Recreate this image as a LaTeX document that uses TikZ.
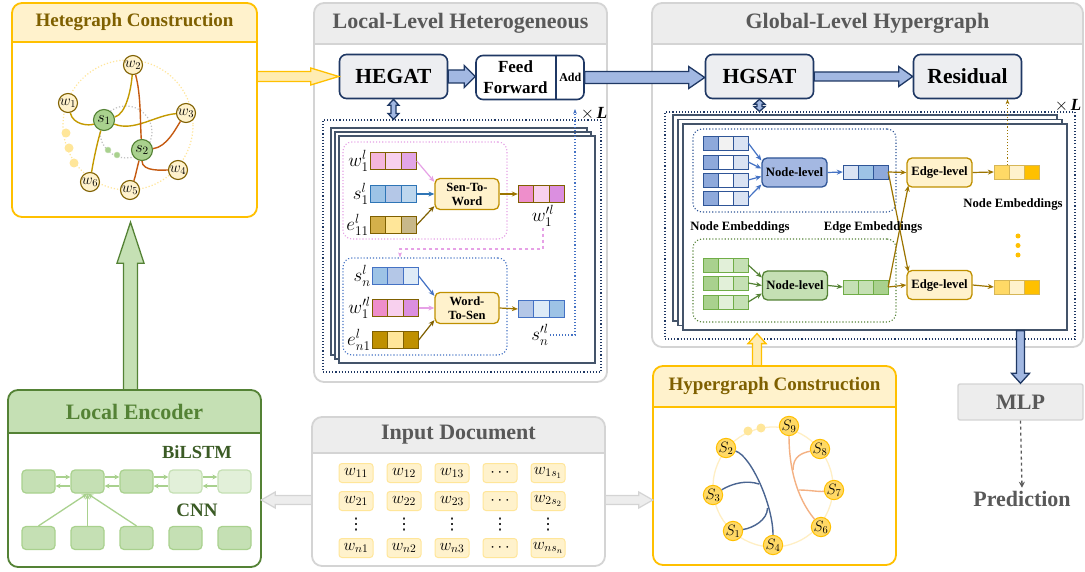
\documentclass[tikz,border=0pt]{standalone}
\usepackage{fix-cm}
\usepackage{fontspec}
\setmainfont{Liberation Serif}
\newfontfamily\symfont{DejaVu Sans}
\usetikzlibrary{calc,positioning,fit,arrows.meta}

% panel colours
\definecolor{yelline}{HTML}{FFC000}
\definecolor{yelfill}{HTML}{FFF2CC}
\definecolor{yeltext}{HTML}{7F6000}
\definecolor{gryline}{HTML}{D4D4D4}
\definecolor{gryfill}{HTML}{EDEDED}
\definecolor{grytext}{HTML}{595959}
\definecolor{grnline}{HTML}{548235}
\definecolor{grnfill}{HTML}{C5E0B4}
\definecolor{grntext}{HTML}{548235}
\definecolor{navy}{HTML}{1F3864}
\definecolor{boxgray}{HTML}{EDEEF1}
\definecolor{arrblue}{HTML}{A2B8E2}
\definecolor{slate}{HTML}{44546A}
\definecolor{gold}{HTML}{BF9000}
\definecolor{edgebrown}{HTML}{9C7400}
% cell colours
\definecolor{pkA}{HTML}{F4B6DC}
\definecolor{pkB}{HTML}{F8D0EE}
\definecolor{pkC}{HTML}{E2A6E6}
\definecolor{pkD}{HTML}{EE8ECB}
\definecolor{pkE}{HTML}{DB8FE0}
\definecolor{pkarrow}{HTML}{E6A1E6}
\definecolor{blA}{HTML}{9DC3E6}
\definecolor{blB}{HTML}{B4C7E7}
\definecolor{blC}{HTML}{BDD7EE}
\definecolor{blD}{HTML}{DEEBF7}
\definecolor{blE}{HTML}{2E75B6}
\definecolor{blF}{HTML}{4472C4}
\definecolor{gdA}{HTML}{D4B04A}
\definecolor{gdB}{HTML}{FFE699}
\definecolor{gdC}{HTML}{C8B88A}
\definecolor{gdD}{HTML}{BF9000}
\definecolor{gdE}{HTML}{D6B656}
\definecolor{nbA}{HTML}{8EA9DB}
\definecolor{nbB}{HTML}{DAE3F3}
\definecolor{nbC}{HTML}{9DC3E6}
\definecolor{nbD}{HTML}{2F5597}
\definecolor{nbL}{HTML}{A4B8E2}
\definecolor{boxF}{HTML}{F2F2F2}
\definecolor{gnA}{HTML}{A9D18E}
\definecolor{gnB}{HTML}{E2F0D9}
\definecolor{gnC}{HTML}{C5E0B4}
\definecolor{gnD}{HTML}{70AD47}
\definecolor{ywA}{HTML}{FFD966}
\definecolor{ywB}{HTML}{FFF2CC}
\definecolor{ywC}{HTML}{FFC000}
\definecolor{hblue}{HTML}{4A6591}
\definecolor{horange}{HTML}{F4B183}
\definecolor{hcirc}{HTML}{FFEFC4}
\definecolor{sedge}{HTML}{C49A00}
\definecolor{wedge}{HTML}{C55A11}

\tikzset{
  bigbox/.style={draw=navy, line width=1.6pt, fill=boxgray, rounded corners=7pt,
    minimum width=108pt, minimum height=44pt, inner sep=0pt,
    font=\bfseries\fontsize{21.5}{22}\selectfont},
  opbox/.style={draw=gold, line width=1.3pt, fill=yelfill, rounded corners=5pt,
    minimum width=64pt, minimum height=31pt, inner sep=0pt, align=center,
    font=\bfseries\fontsize{12.5}{14}\selectfont},
  lvlbox/.style={line width=1.3pt, rounded corners=5pt, minimum width=65pt,
    minimum height=29pt, inner sep=0pt, font=\bfseries\fontsize{12.7}{13}\selectfont},
  stackframe/.style={draw=slate, line width=1.2pt, fill=white, inner sep=0pt},
  loopframe/.style={draw=navy, dotted, line width=1.1pt, inner sep=0pt},
  groupbox/.style={dotted, line width=1.1pt, rounded corners=9pt, inner sep=0pt},
  vlabel/.style={anchor=east, inner sep=1pt, font=\fontsize{19}{19}\selectfont},
  mlabel/.style={inner sep=1pt, font=\fontsize{19}{19}\selectfont},
  lbl/.style={font=\bfseries\fontsize{12.7}{13}\selectfont},
  thinarrow/.style={line width=1.2pt, -{Stealth[length=6pt,width=5pt]}},
  wnode/.style={circle, draw=yeltext, fill=yelfill, line width=1.1pt, inner sep=0pt,
    minimum size=19pt, font=\fontsize{15}{15}\selectfont},
  snode/.style={circle, draw=grnline, fill=gnA, line width=1.1pt, inner sep=0pt,
    minimum size=21pt, font=\fontsize{16}{16}\selectfont},
  hnode/.style={circle, draw=ywC, fill=ywA, line width=1pt, inner sep=0pt,
    minimum size=18pt, font=\fontsize{15}{15}\selectfont},
  encbox/.style={draw=gnA, fill=grnfill, line width=1.2pt, rounded corners=4pt,
    minimum width=33pt, minimum height=23pt, inner sep=0pt},
  docbox/.style={draw=gdB, fill=yelfill, line width=1pt, rounded corners=3pt,
    minimum width=34pt, minimum height=19pt, inner sep=0pt, font=\fontsize{16.5}{16.5}\selectfont},
  blockblue/.style={draw=navy, fill=arrblue, line width=1.3pt},
  yelblock/.style={draw=yelline, fill=gdB!75, line width=1.3pt},
  greenblock/.style={draw=grnline, fill=grnfill, line width=1.3pt},
  grayblock/.style={draw=gryline, fill=gryfill, line width=1.2pt},
  lstm/.style={draw=gnA, line width=1.8pt, -{Stealth[length=5pt,width=5pt]}},
}

% rounded panel with a coloured title band
\newcommand{\panel}[9]{%
  \begin{scope}
    \clip[rounded corners=10pt] (#1,#2) rectangle (#3,#4);
    \fill[white] (#1,#2) rectangle (#3,#4);
    \fill[#6fill] (#1,#2) rectangle (#3,#5);
  \end{scope}
  \draw[#6line, line width=1.8pt] (#1,#5) -- (#3,#5);
  \draw[#6line, line width=1.8pt, rounded corners=10pt] (#1,#2) rectangle (#3,#4);
  \node[#6text, font=\bfseries\fontsize{#8}{#8}\selectfont] (#9-title) at ({(#1+#3)/2},{(#2+#5)/2}) {#7};
  \node[fit={(#1,#2) (#3,#4)}, inner sep=0pt] (#9) {};
}
% three-cell embedding vector
\newcommand{\vect}[7]{%
  \foreach \cc [count=\i from 0] in {#4,#5,#6}
    \draw[fill=\cc, draw=#7, line width=0.9pt] ({#2+\i*\cw},{#3-\ch/2}) rectangle ({#2+(\i+1)*\cw},{#3+\ch/2});
  \node[fit={(#2,{#3-\ch/2}) ({#2+3*\cw},{#3+\ch/2})}, inner sep=0pt] (#1) {};
}
% block arrows: style, from, to, half shaft, half head, head length
\newcommand{\hblock}[6]{%
  \draw[#1] let \p1=(#2), \p2=(#3), \n1={sign(\x2-\x1)} in
    (\x1,{\y1+#4}) -- ({\x2-\n1*#6},{\y1+#4}) -- ({\x2-\n1*#6},{\y1+#5}) -- (\x2,\y1)
    -- ({\x2-\n1*#6},{\y1-#5}) -- ({\x2-\n1*#6},{\y1-#4}) -- (\x1,{\y1-#4}) -- cycle;}
\newcommand{\vblock}[6]{%
  \draw[#1] let \p1=(#2), \p2=(#3), \n1={sign(\y2-\y1)} in
    ({\x1-#4},\y1) -- ({\x1-#4},{\y2-\n1*#6}) -- ({\x1-#5},{\y2-\n1*#6}) -- (\x1,\y2)
    -- ({\x1+#5},{\y2-\n1*#6}) -- ({\x1+#4},{\y2-\n1*#6}) -- ({\x1+#4},\y1) -- cycle;}
\newcommand{\vdblock}[6]{%
  \draw[#1] let \p1=(#2), \p2=(#3), \n1={sign(\y2-\y1)} in
    (\x1,\y1) -- ({\x1+#5},{\y1+\n1*#6}) -- ({\x1+#4},{\y1+\n1*#6}) -- ({\x1+#4},{\y2-\n1*#6})
    -- ({\x1+#5},{\y2-\n1*#6}) -- (\x1,\y2) -- ({\x1-#5},{\y2-\n1*#6}) -- ({\x1-#4},{\y2-\n1*#6})
    -- ({\x1-#4},{\y1+\n1*#6}) -- ({\x1-#5},{\y1+\n1*#6}) -- cycle;}

\begin{document}
\begin{tikzpicture}[x=1pt,y=-1pt]
\useasboundingbox (0,0) rectangle (1085,572);

% panels
\panel{12}{3}{257}{217}{42}{yel}{Hetegraph Construction}{19}{hete}
\panel{314}{3}{607}{382}{44}{gry}{Local-Level Heterogeneous}{22}{local}
\panel{652}{3}{1083}{347}{44}{gry}{Global-Level Hypergraph}{22}{global}
\panel{653}{366}{896}{565}{407}{yel}{Hypergraph Construction}{19}{hyper}
\panel{8}{390}{261}{567}{433}{grn}{Local Encoder}{22}{enc}
\panel{312}{417}{605}{566}{453}{gry}{Input Document}{22}{input}

% ---- hetegraph
\draw[gdB, dotted, line width=1.2pt] (128,125) circle (65);
\draw[gray!50, dotted, line width=1.2pt] (126,132) circle (26);
\foreach \p in {(66,133),(69,148),(74,163)} \fill[gdB] \p circle (4.5);
\foreach \p in {(108,150),(117,155)} \filldraw[fill=gnA, draw=gnC] \p circle (3);
\node[wnode] (w1) at (68,103) {$w_1$};
\node[wnode] (w2) at (133,65) {$w_2$};
\node[wnode] (w3) at (186,113) {$w_3$};
\node[wnode] (w4) at (178,170) {$w_4$};
\node[wnode] (w5) at (130,190) {$w_5$};
\node[wnode] (w6) at (90,182) {$w_6$};
\node[snode] (s1) at (104,120) {$s_1$};
\node[snode] (s2) at (142,150) {$s_2$};
\draw[sedge, line width=1.4pt] (s1) .. controls +(22,-6) and +(-2,25) .. (w2);
\draw[sedge, line width=1.4pt] (w1) .. controls +(5,22) and +(-15,6) .. (s1);
\draw[sedge, line width=1.4pt] (s1) .. controls +(-6,20) and +(4,-25) .. (w6);
\draw[sedge, line width=1.4pt] (s1) .. controls +(30,12) and +(-30,2) .. (w3);
\draw[wedge, line width=1.4pt] (w2) .. controls +(8,30) and +(-2,-30) .. (s2);
\draw[wedge, line width=1.4pt] (s2) .. controls +(25,-3) and +(-10,15) .. (w3);
\draw[wedge, line width=1.4pt] (s2) .. controls +(0,22) and +(-15,0) .. (w4);
\draw[wedge, line width=1.4pt] (s2) .. controls +(-5,18) and +(5,-12) .. (w5);

% ---- local level
\node[bigbox] (hegat) at (393.5,76.5) {HEGAT};
\node[bigbox, fill=white] (ff) at (530,77.5) {};
\coordinate (ffsplit) at ([xshift=-29pt]ff.north east);
\draw[navy, line width=1.6pt] (ffsplit) -- (ffsplit |- ff.south);
\node[font=\bfseries\fontsize{17}{21}\selectfont, align=center] (fftext) at ($(ff.west)!0.5!(ffsplit |- ff.west)$) {Feed\\Forward};
\node[font=\bfseries\fontsize{12}{12}\selectfont] (addtext) at ($(ffsplit |- ff.east)!0.5!(ff.east)$) {Add};

\node[loopframe, fit={(323,120) (601,372)}] (lloop) {};
\foreach \i in {0,1,2}
  \node[stackframe, minimum width=256pt, minimum height=227pt] (lfr\i) at ({459+4*\i},{241.5+4*\i}) {};
\node[groupbox, draw=pkarrow, fit={(343,142) (507,239)}] (ltop) {};
\node[groupbox, draw=blF, fit={(343,258) (507,355)}] (lbot) {};

\def\cw{15.5}\def\ch{16.5}
\vect{w1v}{370}{161}{pkA}{pkB}{pkC}{yeltext}
\vect{s1v}{370}{194}{blA}{blB}{blC}{blE}
\vect{e11v}{370}{225}{gdA}{gdB}{gdC}{yeltext}
\node[vlabel] (w1lab) at (w1v.west) {$w_1^l$};
\node[vlabel] (s1lab) at (s1v.west) {$s_1^l$};
\node[vlabel] (e11lab) at (e11v.west) {$e_{11}^l$};
\node[opbox] (stw) at (467,194) {Sen-To-\\Word};
\vect{w1o}{518}{194}{pkD}{pkB}{pkE}{yeltext}
\node[mlabel] (w1olab) at (543,216) {$w_1^{\prime l}$};
\draw[thinarrow, pkarrow] (w1v.east) -- ($(stw.north west)+(0,4)$);
\draw[thinarrow, blE] (s1v.east) -- (stw.west);
\draw[thinarrow, yeltext] (e11v.east) -- ($(stw.south west)+(0,-4)$);
\draw[thinarrow, edgebrown] (stw.east) -- (w1o.west);

\vect{snv}{372}{276}{blA}{blB}{blD}{blF}
\vect{w1pv}{372}{308}{pkD}{pkB}{pkE}{yeltext}
\vect{en1v}{372}{340}{gdD}{gdB}{gdD}{yeltext}
\node[vlabel] (snlab) at (snv.west) {$s_n^l$};
\node[vlabel] (w1plab) at (w1pv.west) {$w_1^{\prime l}$};
\node[vlabel] (en1lab) at (en1v.west) {$e_{n1}^l$};
\node[opbox] (wts) at (467,308) {Word-\\To-Sen};
\vect{sno}{518}{309}{blB}{blD}{blA}{blF}
\node[mlabel] (snolab) at (540,335) {$s_n^{\prime l}$};
\draw[thinarrow, blF] (snv.east) -- ($(wts.north west)+(0,4)$);
\draw[thinarrow, pkarrow] (w1pv.east) -- (wts.west);
\draw[thinarrow, yeltext] (en1v.east) -- ($(wts.south west)+(0,-4)$);
\draw[thinarrow, edgebrown] (wts.east) -- (sno.west);

\coordinate (pturn) at (400,249);
\draw[pkarrow, dashed, line width=1.2pt, -{Stealth[length=5pt]}] (w1olab.south) |- (pturn) -- (pturn |- lbot.north);
\coordinate (lret) at (575,109);
\draw[blF, dotted, line width=1.1pt, -{Stealth[length=5pt]}] (snolab.east) -| (lret);
\node[font=\fontsize{17}{17}\selectfont] (ltimes) at (594,114) {$\times$\,\textbf{\textit{L}}};

% ---- global level
\node[bigbox] (hgsat) at (759.5,76.5) {HGSAT};
\node[bigbox] (resid) at (967.5,76.5) {Residual};
\node[loopframe, fit={(665,112) (1075,339)}] (gloop) {};
\foreach \i in {0,1,2}
  \node[stackframe, minimum width=384pt, minimum height=206pt] (gfr\i) at ({865+5*\i},{218+4.5*\i}) {};
\node[groupbox, draw=nbD, fit={(693,129) (896,212)}] (gtop) {};
\node[groupbox, draw=grnline, fit={(693,239) (896,322)}] (gbot) {};

\def\cw{15}\def\ch{14}
\vect{nb1}{703}{143}{nbA}{boxF}{nbB}{nbD}
\vect{nb2}{703}{162}{nbA}{white}{nbB}{nbD}
\vect{nb3}{703}{180}{nbA}{white}{nbB}{nbD}
\vect{nb4}{703}{198}{nbA}{white}{nbB}{nbD}
\node[lvlbox, fill=nbL, draw=nbD] (nlb) at (794.5,172.5) {Node-level};
\foreach \v/\off in {nb1/-12,nb2/-4,nb3/4,nb4/12}
  \draw[thinarrow, blF] (\v.east) -- ($(nlb.west)+(0,\off)$);
\vect{eb}{843}{172}{nbB}{nbC}{nbA}{nbD}
\draw[thinarrow, blF] (nlb.east) -- (eb.west);
\node[lvlbox, fill=yelfill, draw=gold] (elt) at (939.5,172.5) {Edge-level};
\vect{yt}{994}{172}{ywA}{ywB}{ywC}{gdE}
\draw[thinarrow, edgebrown] (elt.east) -- (yt.west);

\vect{ng1}{703}{265}{gnA}{gnB}{gnC}{gnD}
\vect{ng2}{703}{283}{gnA}{gnB}{gnC}{gnD}
\vect{ng3}{703}{302}{gnA}{gnB}{gnC}{gnD}
\node[lvlbox, fill=grnfill, draw=grnline] (nlg) at (795,285.5) {Node-level};
\foreach \v/\off in {ng1/-8,ng2/0,ng3/8}
  \draw[thinarrow, grnline] (\v.east) -- ($(nlg.west)+(0,\off)$);
\vect{eg}{843}{287}{gnC}{gnC}{gnA}{gnD}
\draw[thinarrow, grnline] (nlg.east) -- (eg.west);
\node[lvlbox, fill=yelfill, draw=gold] (elb) at (939.5,285) {Edge-level};
\vect{yb}{994}{287}{ywA}{ywB}{ywC}{gdE}
\draw[thinarrow, edgebrown] (elb.east) -- (yb.west);

\draw[thinarrow, edgebrown] (eb.east) -- (elt.west);
\draw[thinarrow, edgebrown] (eb.east) -- ($(elb.north west)+(2,2)$);
\draw[thinarrow, edgebrown] (eg.east) -- (elb.west);
\draw[thinarrow, edgebrown] (eg.east) -- ($(elt.south west)+(2,-2)$);
\draw[edgebrown, dotted, line width=1.1pt, -{Stealth[length=5pt]}] ([xshift=-9pt]yt.north) -- ([xshift=-9pt]yt.north |- resid.south);

\node[lbl] (nelab) at (1013,204) {Node Embeddings};
\node[lbl] (nelab2) at (740,227) {Node Embeddings};
\node[lbl] (eelab) at (873,227) {Edge Embeddings};
\foreach \yy in {236,245.5,255} \fill[ywC] (1018,\yy) circle (2.5);
\node[font=\fontsize{17}{17}\selectfont] (gtimes) at (1068,106) {$\times$\,\textbf{\textit{L}}};

% ---- hypergraph construction
\draw[hcirc, line width=1.3pt] (773,487) circle (60);
\foreach \p in {(748,431),(761,428)} \fill[gdB] \p circle (4.5);
\node[hnode] (hs1) at (733,531) {$S_1$};
\node[hnode] (hs2) at (726,448) {$S_2$};
\node[hnode] (hs3) at (713,495) {$S_3$};
\node[hnode] (hs4) at (773,545) {$S_4$};
\node[hnode] (hs6) at (821,527) {$S_6$};
\node[hnode] (hs7) at (834,490) {$S_7$};
\node[hnode] (hs8) at (820,449) {$S_8$};
\node[hnode] (hs9) at (789,426) {$S_9$};
\coordinate (hj1) at (759,484);
\coordinate (hj2) at (767.5,508);
\coordinate (oj1) at (793,470);
\coordinate (oj2) at (799,490);
\draw[hblue, line width=1.4pt] (hs2) .. controls +(25,8) and +(0,-40) .. (hs4);
\draw[hblue, line width=1.4pt] (hs3) .. controls +(20,-12) and +(-12,-4) .. (hj1);
\draw[hblue, line width=1.4pt] (hs1) .. controls +(20,-3) and +(0,12) .. (hj2);
\draw[horange, line width=1.4pt] (hs9) .. controls +(0,40) and +(-25,-30) .. (hs6);
\draw[horange, line width=1.4pt] (hs8) .. controls +(-18,4) and +(0,-14) .. (oj1);
\draw[horange, line width=1.4pt] (hs7) .. controls +(-15,2) and +(10,0) .. (oj2);

% ---- local encoder
\node[font=\bfseries\fontsize{18.5}{19}\selectfont, text=grnline!70!black] (bilstm) at (197,452) {BiLSTM};
\node[font=\bfseries\fontsize{19}{19}\selectfont, text=grnline!70!black] (cnn) at (197,510) {CNN};
\foreach \i/\x in {1/38.5,2/87.5,3/136.5}
  \node[encbox] (e\i) at (\x,481.5) {};
\foreach \i/\x in {4/185.5,5/234.5}
  \node[encbox, fill=gnB, draw=gnC] (e\i) at (\x,481.5) {};
\foreach \i/\x in {1/38.5,2/87.5,3/136.5,4/185.5,5/234.5}
  \node[encbox] (c\i) at (\x,538) {};
\foreach \a/\b in {e1/e2,e2/e3,e3/e4,e4/e5} {
  \draw[lstm] ([yshift=4.5pt]\a.east) -- ([yshift=4.5pt]\b.west);
  \draw[lstm] ([yshift=-4.5pt]\b.west) -- ([yshift=-4.5pt]\a.east);
}
\foreach \c in {c1,c2,c3}
  \draw[gnA, line width=1.3pt, -{Stealth[length=6pt,width=5pt]}] (\c.north) -- (e2.south);

% ---- input document
\foreach \lab [count=\i] in {{w_{11}},{w_{12}},{w_{13}},{\cdots},{w_{1s_1}}}
  \node[docbox] (da\i) at ({308+48*\i},473) {$\lab$};
\foreach \lab [count=\i] in {{w_{21}},{w_{22}},{w_{23}},{\cdots},{w_{2s_2}}}
  \node[docbox] (db\i) at ({308+48*\i},501) {$\lab$};
\foreach \i in {1,...,5}
  \node[inner sep=0pt, font=\symfont\fontsize{16}{16}\selectfont] (dv\i) at ({308+48*\i},525) {⋮};
\foreach \lab [count=\i] in {{w_{n1}},{w_{n2}},{w_{n3}},{\cdots},{w_{ns_n}}}
  \node[docbox] (dn\i) at ({308+48*\i},548) {$\lab$};

% ---- output
\node[draw=gryline, fill=gryfill, line width=1.4pt, rounded corners=2pt, minimum width=125pt,
  minimum height=36pt, text=grytext, font=\bfseries\fontsize{22}{22}\selectfont] (mlp) at (1020.5,402) {MLP};
\node[text=grytext, font=\bfseries\fontsize{22}{22}\selectfont] (pred) at (1022,499) {Prediction};
\draw[grytext, dashed, line width=1.3pt, -{Stealth[length=6pt,width=6pt]}] (mlp.south) -- (pred.north);

% ---- block arrows
\hblock{yelblock}{hete.east |- hegat.west}{hegat.west}{5}{8.5}{28}
\hblock{blockblue}{hegat.east}{ff.west}{6.5}{11}{11}
\hblock{blockblue}{ff.east}{hgsat.west}{6}{11}{16}
\hblock{blockblue}{hgsat.east}{resid.west}{4.5}{10}{14}
\vdblock{blockblue}{hegat.south}{lloop.north}{2.5}{5.5}{6}
\vdblock{blockblue}{hgsat.south}{gloop.north}{2.5}{5.5}{5}
\vblock{greenblock}{[xshift=-4pt]enc.north}{[yshift=-5pt]hete.south}{7}{13.5}{41}
\vblock{blockblue}{gfr2.south -| mlp.north}{mlp.north}{4}{9}{10}
\vblock{yelblock}{[xshift=-17.5pt]hyper.north}{[yshift=-3pt]gfr2.south}{4.5}{9}{10}
\hblock{grayblock}{[yshift=-8.5pt]input.west}{enc.east}{4.5}{8}{14}
\hblock{grayblock}{[yshift=-8.5pt]input.east}{hyper.west}{4.5}{8}{14}
\end{tikzpicture}
\end{document}
